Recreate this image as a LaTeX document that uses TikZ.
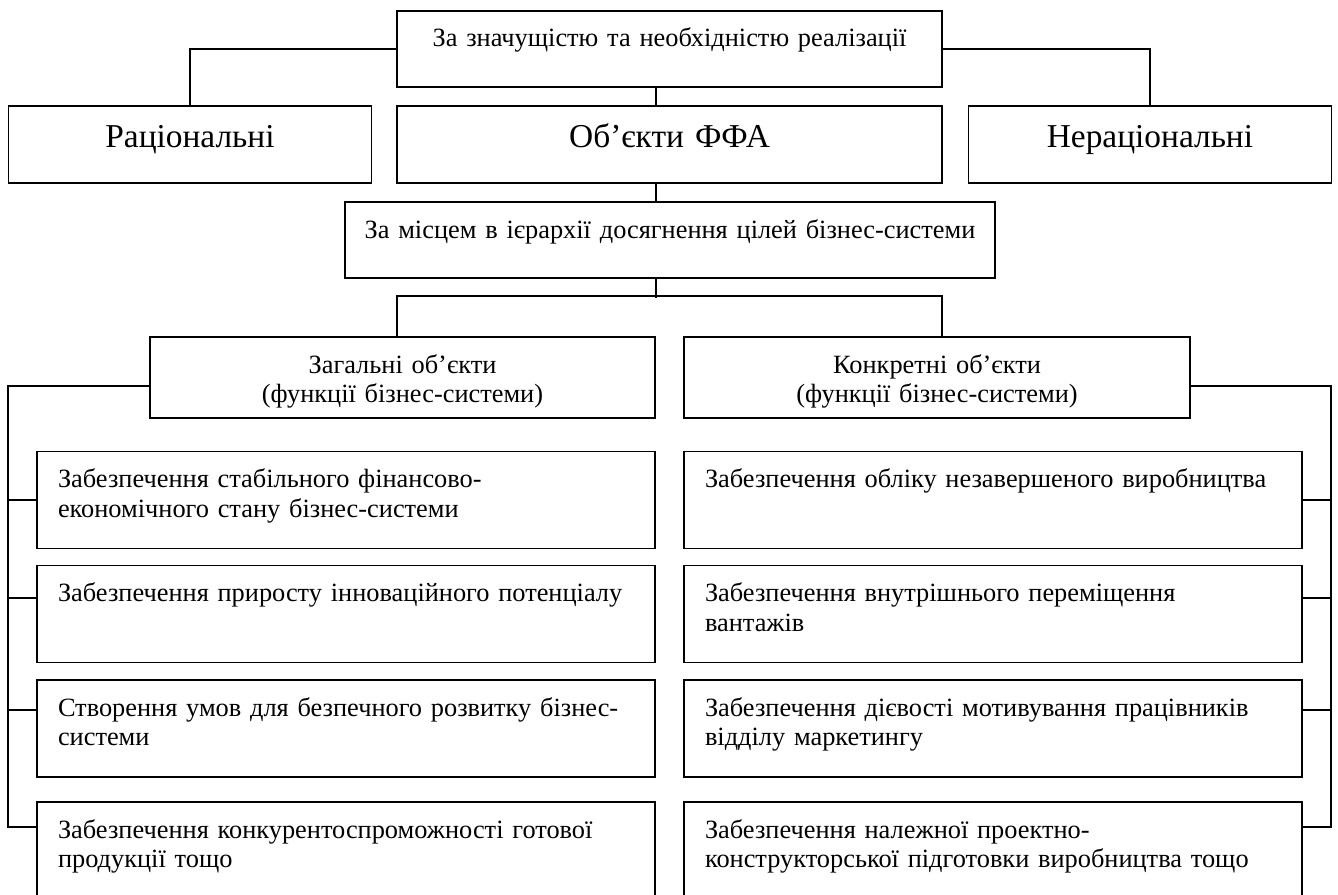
\documentclass[tikz,border=0pt]{standalone}
\usepackage{fontspec}
\setmainfont{Liberation Serif}

\begin{document}
\begin{tikzpicture}[
    box/.style={draw, line width=1pt, inner xsep=0pt, inner ysep=0pt, text height=0.72cm,
                align=center, font=\fontsize{15}{17}\selectfont},
    big/.style={box, text width=7.26cm, text height=0.82cm, text depth=0.72cm,
                font=\fontsize{19}{22}\selectfont},
    item/.style={box, align=left, inner xsep=0.42cm, text width=11.52cm, text depth=1.22cm},
    link/.style={line width=1pt}
  ]
    \path[use as bounding box, fill=white] (0,0) rectangle (26.76,-17.9);

    % Criteria and main object
    \node[box, text width=10.9cm, text depth=0.8cm] (crit1) at (13.39,-0.98)
      {За значущістю та необхідністю реалізації};
    \node[big] (rat) at (3.8,-2.89) {Раціональні};
    \node[big, text width=10.9cm] (obj) at (13.39,-2.89) {Об’єкти ФФА};
    \node[big] (irr) at (23.0,-2.89) {Нераціональні};
    \node[box, text width=13cm, text depth=0.8cm] (crit2) at (13.4,-4.8)
      {За місцем в ієрархії досягнення цілей бізнес-системи};

    % Groups
    \node[box, text width=10.1cm, text depth=0.9cm] (gen) at (8.05,-7.55)
      {Загальні об’єкти\\(функції бізнес-системи)};
    \node[box, text width=10.12cm, text depth=0.9cm] (spec) at (18.74,-7.55)
      {Конкретні об’єкти\\(функції бізнес-системи)};

    % General objects
    \node[item] (g1) at (6.92,-10.0)
      {Забезпечення стабільного фінансово-\\економічного стану бізнес-системи};
    \node[item] (g2) at (6.92,-12.28)
      {Забезпечення приросту інноваційного потенціалу};
    \node[item] (g3) at (6.92,-14.57)
      {Створення умов для безпечного розвитку бізнес-\\системи};
    \node[item] (g4) at (6.92,-17.01)
      {Забезпечення конкурентоспроможності готової\\продукції тощо};

    % Specific objects
    \node[item] (s1) at (19.86,-10.0)
      {Забезпечення обліку незавершеного виробництва};
    \node[item] (s2) at (19.86,-12.28)
      {Забезпечення внутрішнього переміщення\\вантажів};
    \node[item] (s3) at (19.86,-14.57)
      {Забезпечення дієвості мотивування працівників\\відділу маркетингу};
    \node[item] (s4) at (19.86,-17.01)
      {Забезпечення належної проектно-\\конструкторської підготовки виробництва тощо};

    % Links
    \draw[link] (crit1.west) -| (rat.north);
    \draw[link] (crit1.east) -| (irr.north);
    \draw[link] ([xshift=-0.27cm]crit1.south) -- ([xshift=-0.27cm]obj.north);
    \draw[link] ([xshift=-0.27cm]obj.south) -- ([xshift=-0.28cm]crit2.north);
    \draw[link] ([xshift=-0.28cm]crit2.south) -- ++(0,-0.38);
    \draw[link] ([xshift=-0.11cm]gen.north) -- ++(0,0.8) -| ([xshift=0.1cm]spec.north);

    \draw[link] ([yshift=-0.17cm]gen.west) -| ([xshift=-0.56cm, yshift=0.47cm]g4.west) -- ++(0.56,0);
    \draw[link] (g1.west) -- ++(-0.56,0);
    \draw[link] ([yshift=0.32cm]g2.west) -- ++(-0.56,0);
    \draw[link] ([yshift=0.37cm]g3.west) -- ++(-0.56,0);

    \draw[link] ([yshift=-0.17cm]spec.east) -| ([xshift=0.56cm, yshift=0.47cm]s4.east) -- ++(-0.56,0);
    \draw[link] (s1.east) -- ++(0.56,0);
    \draw[link] ([yshift=0.32cm]s2.east) -- ++(0.56,0);
    \draw[link] ([yshift=0.37cm]s3.east) -- ++(0.56,0);
\end{tikzpicture}
\end{document}
